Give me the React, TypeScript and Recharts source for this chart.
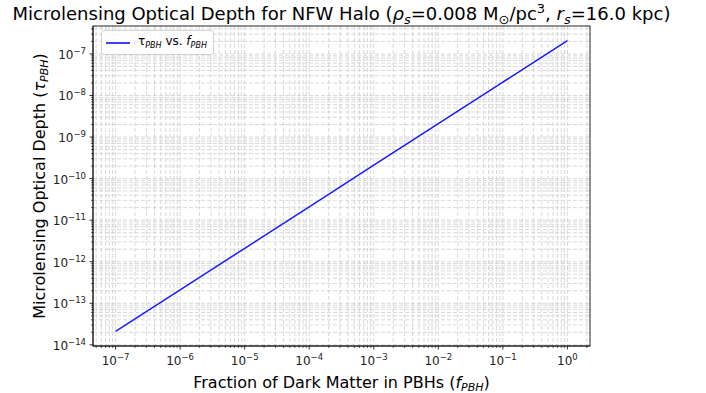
import { LineChart, Line, XAxis, YAxis, CartesianGrid } from 'recharts';

// data (tau grows linearly with f)
const fPBH = [1e-7, 1e-6, 1e-5, 1e-4, 1e-3, 1e-2, 1e-1, 1];
const tauPBH = [2.1e-14, 2.1e-13, 2.1e-12, 2.1e-11, 2.1e-10, 2.1e-9, 2.1e-8, 2.1e-7];

const xMajor = [1e-7, 1e-6, 1e-5, 1e-4, 1e-3, 1e-2, 1e-1, 1];
const yMajor = [1e-14, 1e-13, 1e-12, 1e-11, 1e-10, 1e-9, 1e-8, 1e-7];

// matplotlib-like 5% log margins
const xDomain = [Math.pow(10, -7.35), Math.pow(10, 0.35)];
const yDomain = [Math.pow(10, -14.028), Math.pow(10, -6.328)];

const W = 706;
const H = 393;
const M = { top: 26, right: 116, bottom: 0, left: 0 };
const Y_W = 93;
const X_H = 47;
const FONT = 'DejaVu Sans, sans-serif';

const withMinors = (majors: number[], lo: number, hi: number) => {
  const out: number[] = [];
  const first = majors[0] / 10;
  for (let d = first; d <= majors[majors.length - 1] * 10; d *= 10) {
    for (let k = 1; k <= 9; k++) {
      const v = d * k;
      if (v >= lo && v <= hi) out.push(v);
    }
  }
  return out;
};

const xTicks = withMinors(xMajor, xDomain[0], xDomain[1]);
const yTicks = withMinors(yMajor, yDomain[0], yDomain[1]);

const expOf = (v: number) => {
  const l = Math.log10(v);
  const e = Math.round(l);
  return Math.abs(l - e) < 1e-6 ? e : null;
};

const supLabel = (e: number) => (e < 0 ? '\u2212' + Math.abs(e) : String(e));

const XTick = (props: any) => {
  const { x, y, payload } = props;
  const e = expOf(payload.value);
  const major = e !== null;
  return (
    <g>
      <line x1={x} x2={x} y1={y} y2={y + (major ? 3.5 : 2)} stroke="#000" strokeWidth={major ? 0.8 : 0.6} />
      {major && (
        <text x={x} y={y + 19} textAnchor="middle" fontSize={12} fontFamily={FONT} fill="#222">
          <tspan>10</tspan>
          <tspan dy={-5} fontSize={8.5}>{supLabel(e as number)}</tspan>
        </text>
      )}
    </g>
  );
};

const YTick = (props: any) => {
  const { x, y, payload } = props;
  const e = expOf(payload.value);
  const major = e !== null;
  return (
    <g>
      <line x1={x} x2={x - (major ? 3.5 : 2)} y1={y} y2={y} stroke="#000" strokeWidth={major ? 0.8 : 0.6} />
      {major && (
        <text x={x - 7} y={y + 5} textAnchor="end" fontSize={12} fontFamily={FONT} fill="#222">
          <tspan>10</tspan>
          <tspan dy={-5} fontSize={8.5}>{supLabel(e as number)}</tspan>
        </text>
      )}
    </g>
  );
};

const LegendBox = () => (
  <div
    style={{
      position: 'absolute',
      left: 101,
      top: 30,
      height: 25,
      boxSizing: 'border-box',
      display: 'flex',
      alignItems: 'center',
      gap: 8,
      padding: '0 6px 0 4px',
      border: '1px solid #d0d0d0',
      borderRadius: 3,
      background: 'rgba(255,255,255,0.85)',
      fontFamily: FONT,
      fontSize: 12,
      color: '#000',
      whiteSpace: 'nowrap',
    }}
  >
    <svg width={24} height={10}>
      <line x1={0} x2={24} y1={5} y2={5} stroke="blue" strokeWidth={1.5} />
    </svg>
    <span>
      τ<sub style={{ fontStyle: 'italic', fontSize: 8 }}>PBH</sub> vs. <i>f</i>
      <sub style={{ fontStyle: 'italic', fontSize: 8 }}>PBH</sub>
    </span>
  </div>
);

export default function App() {
  const data = fPBH.map((f, i) => ({ f, tau: tauPBH[i] }));
  const plotL = M.left + Y_W;
  const plotT = M.top;
  const plotW = W - M.right - plotL;
  const plotH = H - M.bottom - X_H - plotT;
  const cx = plotL + plotW / 2;

  return (
    <div style={{ position: 'absolute', left: 0, top: 0, width: W, height: H, background: '#fff' }}>
      <LineChart width={W} height={H} data={data} margin={M}>
        <CartesianGrid stroke="#cfcfcf" strokeDasharray="4 2" strokeWidth={0.8} />
        <XAxis
          dataKey="f"
          type="number"
          scale="log"
          domain={xDomain}
          allowDataOverflow
          ticks={xTicks}
          interval={0}
          tickSize={0}
          tickMargin={0}
          tick={<XTick />}
          height={X_H}
          axisLine={{ stroke: '#000', strokeWidth: 0.8 }}
        />
        <YAxis
          dataKey="tau"
          type="number"
          scale="log"
          domain={yDomain}
          allowDataOverflow
          ticks={yTicks}
          interval={0}
          tickSize={0}
          tickMargin={0}
          tick={<YTick />}
          width={Y_W}
          axisLine={{ stroke: '#000', strokeWidth: 0.8 }}
        />
        <Line
          type="linear"
          dataKey="tau"
          stroke="#1a1aff"
          strokeWidth={1.5}
          dot={false}
          isAnimationActive={false}
        />
      </LineChart>
      <svg
        width={W}
        height={H}
        style={{ position: 'absolute', left: 0, top: 0, pointerEvents: 'none' }}
        fontFamily={FONT}
      >
        <rect x={plotL} y={plotT} width={plotW} height={plotH} fill="none" stroke="#000" strokeWidth={0.8} />
        <text x={cx} y={20} textAnchor="middle" fontSize={18} fill="#000">
          Microlensing Optical Depth for NFW Halo (<tspan fontStyle="italic">ρ</tspan>
          <tspan dy={4} fontSize={13} fontStyle="italic">s</tspan>
          <tspan dy={-4}>=0.008 M</tspan>
          <tspan dy={4} fontSize={13}>⊙</tspan>
          <tspan dy={-4}>/pc</tspan>
          <tspan dy={-7} fontSize={13}>3</tspan>
          <tspan dy={7}>, </tspan>
          <tspan fontStyle="italic">r</tspan>
          <tspan dy={4} fontSize={13} fontStyle="italic">s</tspan>
          <tspan dy={-4}>=16.0 kpc)</tspan>
        </text>
        <text x={cx} y={388} textAnchor="middle" fontSize={16} fill="#000">
          Fraction of Dark Matter in PBHs (<tspan fontStyle="italic">f</tspan>
          <tspan dy={3} fontSize={11} fontStyle="italic">PBH</tspan>
          <tspan dy={-3}>)</tspan>
        </text>
        <text
          x={0}
          y={0}
          transform={`translate(45, ${plotT + plotH / 2}) rotate(-90)`}
          textAnchor="middle"
          fontSize={16}
          fill="#000"
        >
          Microlensing Optical Depth (<tspan fontStyle="italic">τ</tspan>
          <tspan dy={3} fontSize={11} fontStyle="italic">PBH</tspan>
          <tspan dy={-3}>)</tspan>
        </text>
      </svg>
      <LegendBox />
    </div>
  );
}
